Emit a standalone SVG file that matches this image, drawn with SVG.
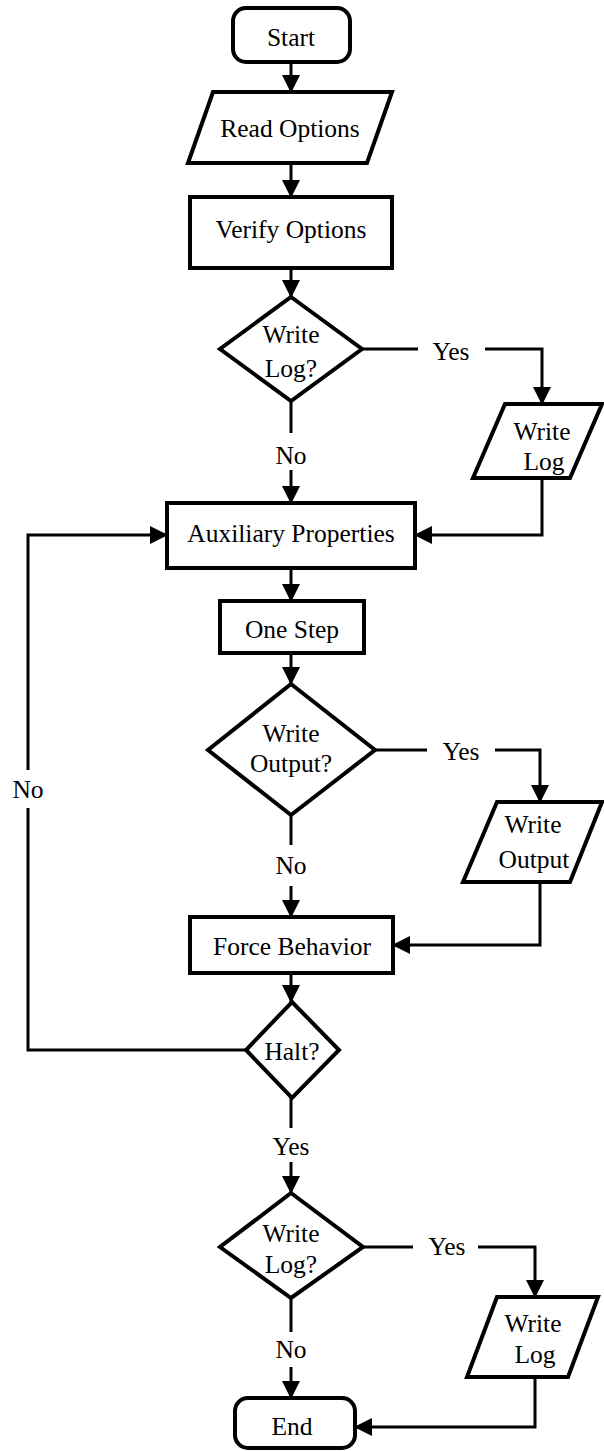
<svg xmlns="http://www.w3.org/2000/svg" width="604" height="1451" viewBox="0 0 604 1451">
<defs>
<style>
.n{fill:#fff;stroke:#000;stroke-width:4;stroke-linejoin:miter}
.c{fill:none;stroke:#000;stroke-width:3}
text{font-family:"Liberation Serif","DejaVu Serif",serif;font-size:25.5px;fill:#000;text-anchor:middle}
</style>
<marker id="ah" markerWidth="18" markerHeight="18" viewBox="0 0 18 18" refX="17" refY="9" orient="auto" markerUnits="userSpaceOnUse">
<path d="M0,0 L18,9 L0,18 Z" fill="#000"/>
</marker>
</defs>
<rect width="604" height="1451" fill="#fff"/>
<g id="connectors">
<path class="c" d="M291,62 V92" marker-end="url(#ah)"/>
<path class="c" d="M291,163 V197" marker-end="url(#ah)"/>
<path class="c" d="M291,268 V297" marker-end="url(#ah)"/>
<path class="c" d="M362,349 H418"/>
<path class="c" d="M485,349 H542 V404" marker-end="url(#ah)"/>
<path class="c" d="M291,401 V433"/>
<path class="c" d="M291,470 V503" marker-end="url(#ah)"/>
<path class="c" d="M542,478 V535 H415" marker-end="url(#ah)"/>
<path class="c" d="M291,568 V601" marker-end="url(#ah)"/>
<path class="c" d="M291,653 V684" marker-end="url(#ah)"/>
<path class="c" d="M375,750 H427"/>
<path class="c" d="M495,750 H540 V802" marker-end="url(#ah)"/>
<path class="c" d="M291,815 V845"/>
<path class="c" d="M291,886 V917" marker-end="url(#ah)"/>
<path class="c" d="M540,882 V945 H393" marker-end="url(#ah)"/>
<path class="c" d="M291,973 V1002" marker-end="url(#ah)"/>
<path class="c" d="M246,1050 H28 V808"/>
<path class="c" d="M28,770 V535 H167" marker-end="url(#ah)"/>
<path class="c" d="M291,1098 V1128"/>
<path class="c" d="M291,1162 V1193" marker-end="url(#ah)"/>
<path class="c" d="M363,1247 H413"/>
<path class="c" d="M478,1247 H535 V1297" marker-end="url(#ah)"/>
<path class="c" d="M291,1298 V1332"/>
<path class="c" d="M291,1367 V1398" marker-end="url(#ah)"/>
<path class="c" d="M535,1377 V1427 H355" marker-end="url(#ah)"/>
<text x="451" y="360">Yes</text>
<text x="291" y="464">No</text>
<text x="461" y="760">Yes</text>
<text x="291" y="874">No</text>
<text x="28" y="798">No</text>
<text x="291" y="1155">Yes</text>
<text x="447" y="1255">Yes</text>
<text x="291" y="1358">No</text>
</g>
<g id="start"><rect class="n" x="233" y="8" width="117" height="54" rx="13"/><text x="291" y="46">Start</text></g>
<g id="read-options"><polygon class="n" points="213,92 392,92 367,163 188,163"/><text x="290" y="137">Read Options</text></g>
<g id="verify-options"><rect class="n" x="190" y="197" width="202" height="71"/><text x="291" y="238">Verify Options</text></g>
<g id="write-log-q1"><polygon class="n" points="291,297 362,349 291,401 220,349"/><text x="291" y="343">Write</text><text x="291" y="377">Log?</text></g>
<g id="write-log1"><polygon class="n" points="505,404 602,404 570,478 473,478"/><text x="542" y="440">Write</text><text x="544" y="470">Log</text></g>
<g id="auxiliary"><rect class="n" x="167" y="503" width="248" height="65"/><text x="291" y="542">Auxiliary Properties</text></g>
<g id="one-step"><rect class="n" x="220" y="601" width="144" height="52"/><text x="292" y="638">One Step</text></g>
<g id="write-output-q"><polygon class="n" points="291,684 375,750 291,815 208,750"/><text x="291" y="742">Write</text><text x="291" y="772">Output?</text></g>
<g id="write-output"><polygon class="n" points="497,802 602,802 570,882 463,882"/><text x="533" y="833">Write</text><text x="534" y="868">Output</text></g>
<g id="force"><rect class="n" x="190" y="917" width="203" height="56"/><text x="292" y="955">Force Behavior</text></g>
<g id="halt"><polygon class="n" points="292,1002 339,1050 292,1098 246,1050"/><text x="292" y="1060">Halt?</text></g>
<g id="write-log-q2"><polygon class="n" points="291,1193 363,1247 291,1298 220,1247"/><text x="291" y="1242">Write</text><text x="291" y="1273">Log?</text></g>
<g id="write-log2"><polygon class="n" points="497,1297 598,1297 568,1377 467,1377"/><text x="533" y="1332">Write</text><text x="535" y="1363">Log</text></g>
<g id="end"><rect class="n" x="235" y="1398" width="120" height="50" rx="13"/><text x="292" y="1435">End</text></g>
</svg>
